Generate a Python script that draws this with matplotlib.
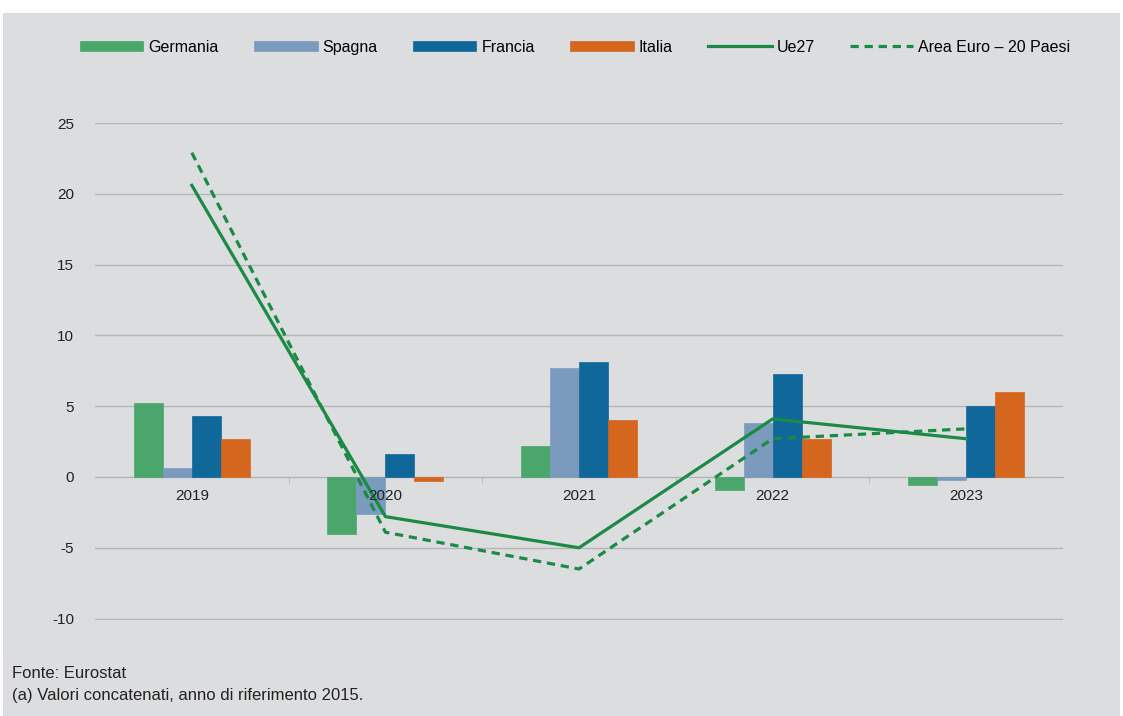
import numpy as np
import matplotlib.pyplot as plt
from matplotlib.patches import Rectangle

# Dati (variazioni %)
anni = ["2019", "2020", "2021", "2022", "2023"]
germania = [5.2, -4.0, 2.2, -0.9, -0.6]
spagna = [0.6, -2.6, 7.7, 3.8, -0.2]
francia = [4.3, 1.6, 8.1, 7.3, 5.0]
italia = [2.7, -0.3, 4.0, 2.7, 6.0]
ue27 = [20.6, -2.8, -5.0, 4.1, 2.7]
area_euro = [22.9, -3.9, -6.5, 2.7, 3.4]

colori = {"Germania": "#4aa66a", "Spagna": "#7a9bbd", "Francia": "#10679a", "Italia": "#d4661e"}
verde = "#1a8a45"
sfondo = "#dcdddf"
testo = "#222222"

plt.rcParams['font.family'] = ['Liberation Sans', 'DejaVu Sans']
plt.rcParams['axes.unicode_minus'] = False

fig = plt.figure(figsize=(11.23, 7.16), dpi=100)
fig.patch.set_facecolor("white")
fig.patches.append(Rectangle((0.003, 0), 0.994, 1 - 13 / 716, transform=fig.transFigure,
                             facecolor=sfondo, edgecolor="none", zorder=-10))

ax = fig.add_axes([0.0846, 0.1341, 0.8620, 0.6941])
ax.set_facecolor("none")

x = np.arange(len(anni))
w = 0.15
serie = [("Germania", germania), ("Spagna", spagna), ("Francia", francia), ("Italia", italia)]
for i, (nome, vals) in enumerate(serie):
    ax.bar(x + (i - 1.5) * w, vals, w, color=colori[nome], label=nome, zorder=2,
           edgecolor=colori[nome], linewidth=0.5)

ax.plot(x, ue27, color=verde, lw=2.3, label="Ue27", zorder=3)
ax.plot(x, area_euro, color=verde, lw=2.3, ls=(0, (2.6, 1.8)), label="Area Euro \u2013 20 Paesi", zorder=3)

ax.set_xlim(-0.5, 4.5)
ax.set_ylim(-10.1, 25)
ax.set_yticks(np.arange(-10, 26, 5))
ax.yaxis.grid(True, color="#b5b5b5", lw=1)
ax.set_axisbelow(True)
ax.tick_params(axis="y", length=0, pad=15, labelsize=11, labelcolor=testo)

for s in ["top", "right", "left"]:
    ax.spines[s].set_visible(False)
ax.spines["bottom"].set_position(("data", 0))
ax.spines["bottom"].set_color("#b5b5b5")
ax.spines["bottom"].set_zorder(1.5)
ax.set_xticks(x)
ax.set_xticklabels([])
ax.set_xticks(np.arange(0.5, 4.5, 1), minor=True)
ax.tick_params(axis="x", which="major", length=0)
ax.tick_params(axis="x", which="minor", length=4, color="#b5b5b5")

# etichette degli anni sopra le barre, sulla linea dello zero
for xi, anno in zip(x, anni):
    ax.annotate(anno, (xi, 0), xytext=(0, -9), textcoords="offset points",
                ha="center", va="top", fontsize=11, color=testo, zorder=5)

handles, labels = ax.get_legend_handles_labels()
ordine = [2, 3, 4, 5, 0, 1]
fig.legend([handles[i] for i in ordine], [labels[i] for i in ordine], loc="center",
           bbox_to_anchor=(0.512, 0.934), ncol=6, frameon=False, fontsize=11.5,
           handlelength=4.0, handleheight=0.6, columnspacing=2.2, handletextpad=0.3)

fig.text(0.011, 0.053, "Fonte: Eurostat", fontsize=12,
         family=['Liberation Sans Narrow', 'Liberation Sans'], color=testo)
fig.text(0.011, 0.022, "(a) Valori concatenati, anno di riferimento 2015.", fontsize=12,
         family=['Liberation Sans Narrow', 'Liberation Sans'], color=testo)

fig.savefig("out.png", dpi=100)
